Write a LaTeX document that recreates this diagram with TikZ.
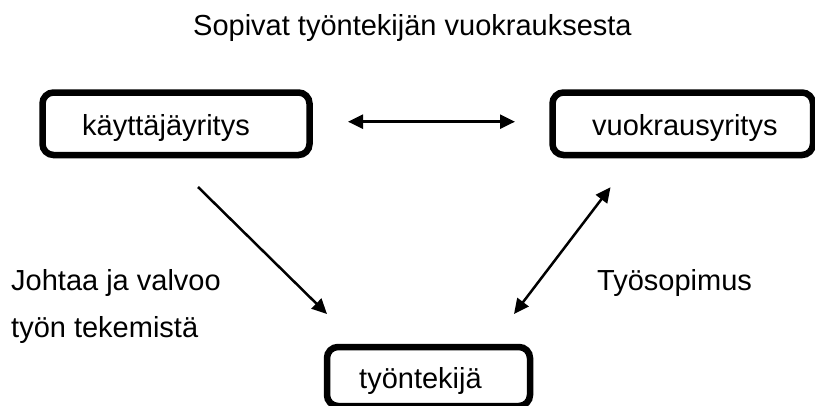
\documentclass[tikz,border=0pt]{standalone}
\usepackage{fontspec}
\setmainfont{Liberation Sans}
\usetikzlibrary{arrows.meta}
\begin{document}
\begin{tikzpicture}[x=1pt,y=-1pt,
  box/.style={draw=black, line width=6.5pt, rounded corners=11pt, fill=white, inner sep=0pt},
  txt/.style={font=\fontsize{29}{34}\selectfont, inner sep=0pt, anchor=base west},
  arr/.style={line width=2.5pt, -{Triangle[length=15pt,width=14pt]}},
  darr/.style={line width=2.5pt, {Triangle[length=15pt,width=14pt]}-{Triangle[length=15pt,width=14pt]}}]
\useasboundingbox (0,0) rectangle (815,405);
\clip (0,0) rectangle (815,405);
% boxes
\node[box, minimum width=267pt, minimum height=62.5pt] (kay) at (176,123.75) {};
\node[box, minimum width=260.5pt, minimum height=62.5pt] (vuo) at (682.75,123.75) {};
\node[box, minimum width=203pt, minimum height=59pt] (tyo) at (428.5,376.5) {};
% texts
\node[txt] (title) at (193,35) {Sopivat työntekijän vuokrauksesta};
\node[txt] (kayt) at (82,135) {käyttäjäyritys};
\node[txt] (vuot) at (592,135) {vuokrausyritys};
\node[txt] (tyot) at (359,388) {työntekijä};
\node[txt] (joh1) at (11,290) {Johtaa ja valvoo};
\node[txt] (joh2) at (11,337) {työn tekemistä};
\node[txt] (sop) at (597,290) {Työsopimus};
% arrow end points
\coordinate (a1) at (348,121.7);
\coordinate (a2) at (515,121.7);
\coordinate (b1) at (198,187);
\coordinate (b2) at (327,314);
\coordinate (c1) at (610.5,187.3);
\coordinate (c2) at (514,314);
\draw[darr] (a1) -- (a2);
\draw[arr] (b1) -- (b2);
\draw[darr] (c2) -- (c1);
\end{tikzpicture}
\end{document}
